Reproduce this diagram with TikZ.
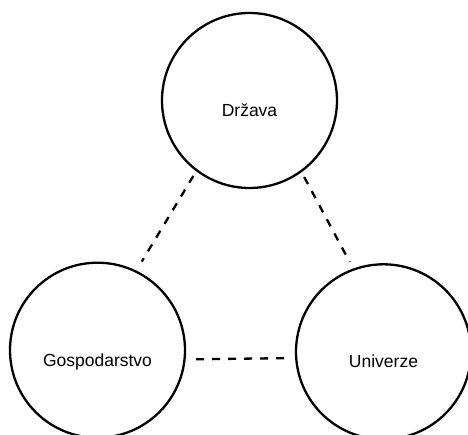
\documentclass[tikz,border=0pt]{standalone}
\usepackage{fontspec}
\setmainfont{Liberation Sans}
\begin{document}
\begin{tikzpicture}[x=1pt,y=1pt,
  party/.style={circle, draw=black, line width=2.3pt, minimum size=175pt, inner sep=0pt},
  partylabel/.style={anchor=base, inner sep=0pt, font=\fontsize{17.5}{21}\selectfont},
  link/.style={draw=black, line width=2.3pt, dash pattern=on 8pt off 8pt}]
  \clip (0,0) rectangle (468,434);
  \useasboundingbox (0,0) rectangle (468,434);

  % the three spheres
  \node[party] (drzava) at (249.5,333.5) {};
  \node[party] (gosp)   at (97.5,83.8) {};
  \node[party] (univ)   at (383.5,82.2) {};

  \node[partylabel] (tdrzava) at ([yshift=-16pt]drzava.center) {Država};
  \node[partylabel] (tgosp)   at ([yshift=-16pt]gosp.center) {Gospodarstvo};
  \node[partylabel] (tuniv)   at ([yshift=-16pt]univ.center) {Univerze};

  % dashed links between the spheres
  \draw[link, shorten <=5.4pt, shorten >=10.4pt] (drzava.233.3) -- (gosp.64.7);
  \draw[link, shorten <=5.4pt, shorten >=7.4pt] (drzava.306.7) -- (univ.110.7);
  \draw[link, shorten <=10.4pt, shorten >=3.2pt] (gosp.354.9) -- (univ.184.1);
\end{tikzpicture}
\end{document}
